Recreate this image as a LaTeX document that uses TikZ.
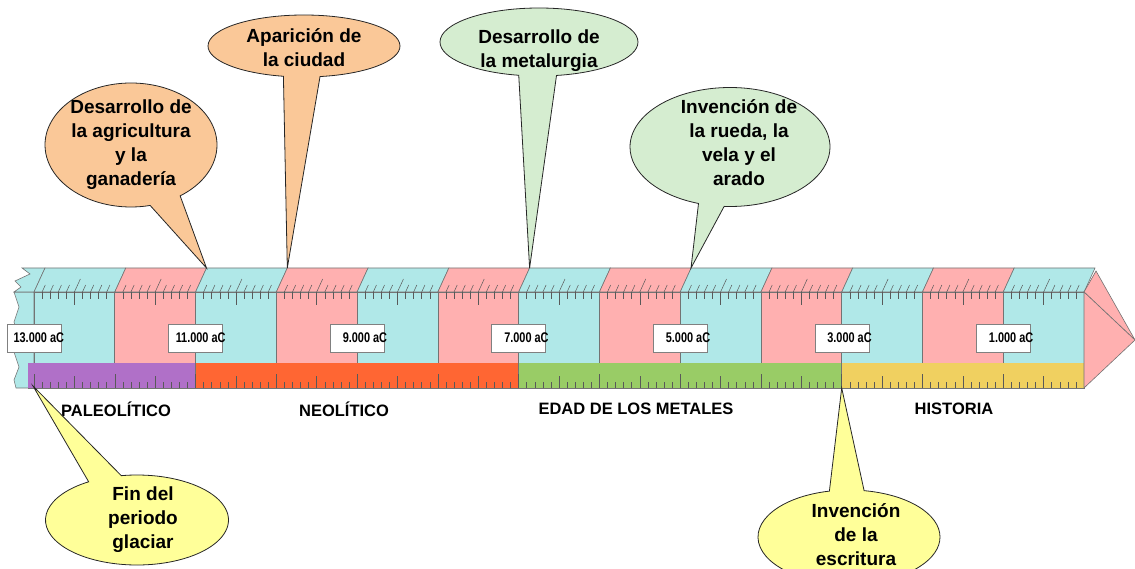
\documentclass[tikz,border=0pt]{standalone}
\usepackage{fontspec}
\setmainfont{Liberation Sans}
\newfontfamily\narrowfont[FakeStretch=0.78]{Liberation Sans}
\usetikzlibrary{shapes.callouts}

\definecolor{seg0}{RGB}{176,232,232}
\definecolor{seg1}{RGB}{255,176,176}
\definecolor{paleoband}{RGB}{176,112,200}
\definecolor{neoband}{RGB}{255,102,51}
\definecolor{metalband}{RGB}{153,204,102}
\definecolor{histband}{RGB}{240,208,96}
\definecolor{orangecall}{RGB}{250,200,152}
\definecolor{greencall}{RGB}{213,237,208}
\definecolor{yellowcall}{RGB}{255,255,153}

\tikzset{
  rulerline/.style={draw=black!55, line width=0.6pt},
  tick/.style={black!65, line width=0.5pt},
  datebox/.style={draw=black!50, fill=white, minimum width=54pt, minimum height=28pt, inner sep=0pt,
    font=\narrowfont\bfseries\fontsize{14}{14}\selectfont},
  era/.style={font=\bfseries\fontsize{16.5}{16.5}\selectfont},
  bubble/.style={ellipse callout, draw=black!85, line width=0.8pt, inner sep=0pt, callout pointer arc=22},
  calltext/.style={align=center, font=\bfseries\fontsize{19}{24}\selectfont}
}

\begin{document}
\begin{tikzpicture}[x=1pt,y=-1pt]
\useasboundingbox (0,0) rectangle (1135,569);

% torn left end of the ruler
\filldraw[fill=seg0, rulerline] (34,292) -- (14,292) -- (19,307) -- (14,322) -- (19,337) -- (14,352)
  -- (19,367) -- (14,380) -- (16,388) -- (34,388) -- cycle;
\filldraw[fill=seg0, rulerline] (45,268) -- (22,268) -- (30,274) -- (15,281) -- (21,287) -- (14,292) -- (34,292) -- cycle;

% the coloured segments, front and top face
\foreach \i [evaluate=\i as \c using {int(mod(\i,2))}] in {0,...,12} {
  \pgfmathsetmacro\xa{34+80.77*\i}
  \pgfmathsetmacro\xb{34+80.77*(\i+1)}
  \filldraw[fill=seg\c, rulerline] (\xa,292) rectangle (\xb,388);
  \filldraw[fill=seg\c, rulerline] (\xa,292) -- (\xa+11,268) -- (\xb+11,268) -- (\xb,292) -- cycle;
}

% ticks on the upper edge
\foreach \i in {0,...,12} {
  \foreach \k in {1,...,9} {
    \pgfmathsetmacro\tx{34+80.77*\i+8.077*\k}
    \pgfmathsetmacro\tl{\k==5 ? 13 : 7}
    \draw[tick] (\tx,292) -- (\tx,292+\tl);
    \draw[tick] (\tx,292) -- (\tx+0.46*\tl,292-\tl);
  }
}

% the periods
\fill[paleoband] (28,363) rectangle (195.5,388);
\fill[neoband] (195.5,363) rectangle (518.6,388);
\fill[metalband] (518.6,363) rectangle (841.7,388);
\fill[histband] (841.7,363) rectangle (1084,388);
\draw[rulerline] (28,388) -- (1084,388);
\foreach \x in {195.5,518.6,841.7} \draw[rulerline] (\x,363) -- (\x,388);

% ticks on the lower edge
\foreach \i in {0,...,12} {
  \pgfmathsetmacro\bx{34+80.77*\i}
  \draw[tick] (\bx,388) -- (\bx,374);
  \foreach \k in {1,...,9} {
    \pgfmathsetmacro\tx{\bx+8.077*\k}
    \pgfmathsetmacro\tl{\k==5 ? 12 : 6}
    \draw[tick] (\tx,388) -- (\tx,388-\tl);
  }
}

% arrow head
\filldraw[fill=seg1, rulerline] (1084,292) -- (1096,271) -- (1135,340) -- cycle;
\filldraw[fill=seg1, rulerline] (1084,292) -- (1135,340) -- (1084,388) -- cycle;

% dates
\foreach \i/\t in {0/13.000, 2/11.000, 4/9.000, 6/7.000, 8/5.000, 10/3.000, 12/1.000}
  \node[datebox] (d\i) at ({34+80.77*\i},338) {\makebox[0pt][r]{\t\ aC\hspace{-30pt}}};

% names of the periods
\node[era] (paleo) at (116,409) {PALEOLÍTICO};
\node[era] (neo) at (344,409) {NEOLÍTICO};
\node[era] (metal) at (636,409) {EDAD DE LOS METALES};
\node[era] (hist) at (954,409) {HISTORIA};

% callouts
\coordinate (p-agri) at (206.5,268);
\coordinate (p-ciudad) at (287.3,268);
\coordinate (p-metal) at (529.6,268);
\coordinate (p-rueda) at (691,268);
\coordinate (p-glaciar) at (33,386);
\coordinate (p-escritura) at (841.7,388);

\node[bubble, fill=orangecall, minimum width=172pt, minimum height=124pt, callout absolute pointer={(p-agri)},
  label={[calltext]center:{Desarrollo de\\la agricultura\\y la\\ganadería}}] (agri) at (131,145) {};
\node[bubble, fill=orangecall, minimum width=192pt, minimum height=62pt, callout absolute pointer={(p-ciudad)},
  label={[calltext, yshift=-2pt]center:{Aparición de\\la ciudad}}] (ciudad) at (304,46) {};
\node[bubble, fill=greencall, minimum width=198pt, minimum height=68pt, callout absolute pointer={(p-metal)},
  label={[calltext, yshift=-9pt]center:{Desarrollo de\\la metalurgia}}] (metalurgia) at (539,42) {};
\node[bubble, fill=greencall, callout pointer arc=15, minimum width=200pt, minimum height=119pt, callout absolute pointer={(p-rueda)},
  label={[calltext, xshift=9pt, yshift=4pt]center:{Invención de\\la rueda, la\\vela y el\\arado}}] (rueda) at (730,147) {};
\node[bubble, fill=yellowcall, minimum width=183pt, minimum height=90pt, callout absolute pointer={(p-glaciar)},
  label={[calltext, xshift=6pt]center:{Fin del\\periodo\\glaciar}}] (glaciar) at (137,520) {};
\node[bubble, fill=yellowcall, minimum width=182pt, minimum height=94pt, callout absolute pointer={(p-escritura)},
  label={[calltext, xshift=7pt, yshift=2pt]center:{Invención\\de la\\escritura}}] (escritura) at (849,537) {};

\end{tikzpicture}
\end{document}
